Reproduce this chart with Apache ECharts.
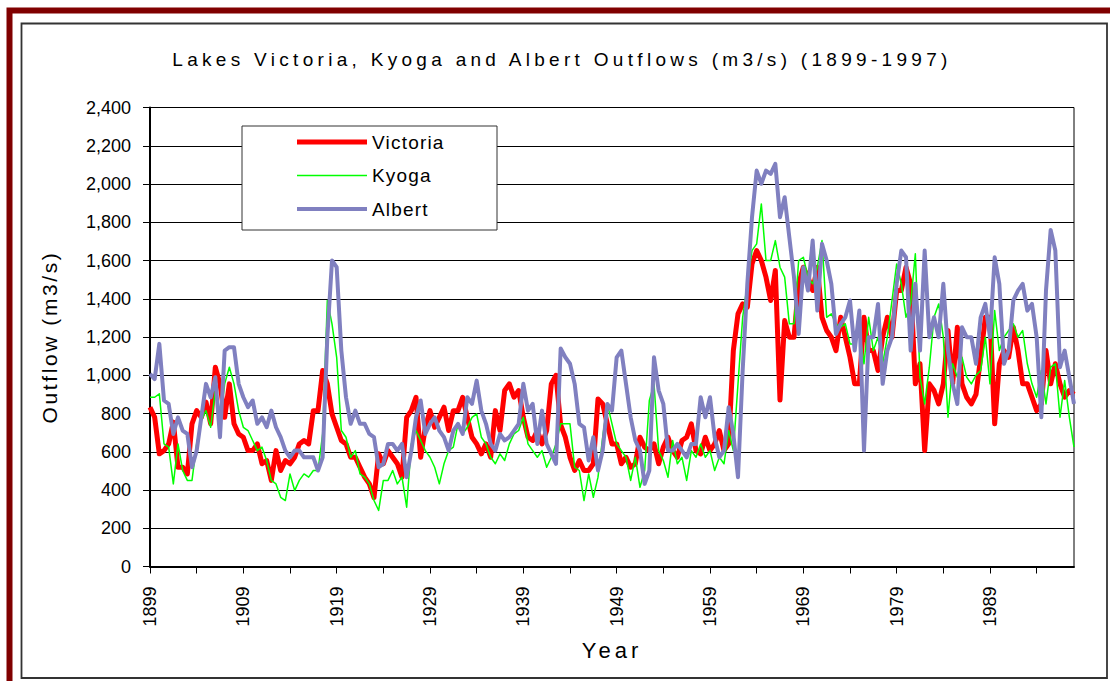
<!DOCTYPE html>
<html>
<head>
<meta charset="utf-8">
<script src="https://cdn.jsdelivr.net/npm/echarts@6.0.0/dist/echarts.min.js"></script>
<style>
html,body{margin:0;padding:0;background:#fff;}
#chart{width:1110px;height:681px;}
#chart text[style*="lsTitle"]{letter-spacing:4.3px;}
#chart text[style*="lsYName"]{letter-spacing:2.6px;}
#chart text[style*="lsXName"]{letter-spacing:4px;}
#chart text[style*="lsLegend"]{letter-spacing:1.2px;}
</style>
</head>
<body>
<div id="chart"></div>
<script>
// Half-yearly samples, starting 1899.0
const startYear = 1899;
const stepYears = 0.5;

const victoria = [
  833, 780, 589, 606, 641, 755, 519, 519, 484, 746, 815, 780, 860, 746, 1042, 955, 780, 955, 746, 693, 676, 606,
  606, 641, 537, 554, 450, 606, 502, 554, 537, 571, 641, 659, 641, 815, 815, 1025, 955, 798, 728, 659, 641, 571,
  571, 519, 467, 432, 360, 589, 537, 606, 571, 537, 467, 780, 815, 885, 571, 728, 815, 728, 780, 833, 711, 815,
  815, 885, 780, 676, 641, 589, 641, 571, 815, 711, 920, 955, 885, 920, 780, 676, 659, 711, 641, 711, 955, 1000, 740,
  676, 571, 502, 554, 502, 502, 537, 876, 850, 746, 641, 641, 537, 571, 519, 537, 676, 624, 606, 641, 537, 624,
  676, 606, 571, 659, 676, 746, 606, 589, 676, 606, 641, 711, 606, 641, 1129, 1321, 1373, 1356, 1582, 1652, 1600, 1513,
  1391, 1548, 870, 1286, 1199, 1199, 1478, 1565, 1513, 1443, 1565, 1303, 1234, 1199, 1129, 1303, 1199, 1094, 955, 955, 1303, 1129,
  1129, 1025, 1199, 1303, 1199, 1443, 1443, 1565, 1478, 955, 1060, 606, 955, 920, 850, 955, 1234, 955, 1251, 955, 885, 850, 900,
  1094, 1303, 1303, 746, 1060, 1129, 1094, 1251, 1129, 955, 955, 885, 815, 850, 1129, 955, 1060, 955, 885, 920, 900
];

const kyoga = [
  885, 885, 903, 641, 624, 432, 641, 502, 450, 450, 641, 763, 815, 728, 920, 746, 955, 1042, 955, 815, 728, 711,
  659, 606, 624, 554, 450, 432, 362, 345, 484, 397, 450, 484, 467, 502, 502, 693, 1391, 1269, 1094, 711, 676, 571,
  606, 484, 467, 432, 345, 293, 450, 450, 502, 432, 467, 310, 641, 711, 659, 606, 571, 519, 432, 537, 606, 624,
  746, 693, 728, 780, 798, 676, 641, 571, 537, 589, 554, 641, 693, 711, 780, 641, 606, 571, 606, 519, 571, 641, 746,
  746, 746, 519, 502, 345, 484, 362, 467, 676, 850, 746, 641, 606, 571, 450, 571, 414, 502, 868, 955, 606, 554,
  467, 659, 537, 571, 450, 606, 571, 641, 571, 606, 502, 571, 537, 711, 606, 955, 1303, 1478, 1652, 1687, 1896, 1600,
  1600, 1704, 1565, 1513, 1269, 1269, 1600, 1617, 1513, 1478, 1565, 1704, 1303, 1321, 1269, 1251, 1269, 1164, 1164, 1234, 1060, 1303,
  1129, 1199, 1060, 1199, 1391, 1582, 1478, 1303, 1373, 1635, 990, 850, 1042, 1303, 1373, 1199, 781, 1060, 990, 1094, 990, 955, 1000,
  1025, 1199, 955, 1338, 1129, 1199, 1234, 1269, 1199, 1234, 1060, 955, 885, 1025, 850, 1042, 1060, 781, 972, 781, 624
];

const albert = [
  1007, 980, 1164, 868, 850, 693, 780, 711, 693, 519, 606, 780, 955, 885, 990, 676, 1129, 1147, 1147, 955, 885, 833,
  868, 746, 780, 728, 815, 728, 676, 606, 571, 606, 606, 571, 571, 571, 502, 571, 1199, 1600, 1565, 1129, 885, 746,
  815, 746, 746, 693, 676, 519, 537, 641, 641, 606, 641, 467, 606, 780, 868, 693, 746, 780, 711, 676, 606, 711,
  746, 693, 885, 850, 972, 815, 746, 641, 606, 693, 659, 676, 711, 746, 955, 815, 850, 641, 815, 641, 589, 537, 1140,
  1094, 1060, 955, 746, 728, 554, 676, 502, 606, 850, 815, 1094, 1129, 955, 780, 659, 606, 432, 502, 1094, 920, 850,
  606, 606, 641, 606, 571, 641, 641, 885, 780, 885, 676, 571, 606, 833, 693, 467, 1025, 1478, 1826, 2070, 2001, 2070,
  2053, 2105, 1826, 1931, 1722, 1513, 1216, 1565, 1443, 1704, 1338, 1687, 1600, 1478, 1216, 1269, 1303, 1391, 1129, 1338, 606, 1199,
  1199, 1373, 955, 1129, 1199, 1478, 1652, 1617, 1129, 1478, 1129, 1652, 1199, 1303, 1199, 1478, 1129, 955, 850, 1251, 1199, 1199, 1060,
  1303, 1373, 1199, 1617, 1478, 1060, 1129, 1391, 1443, 1478, 1338, 1373, 1199, 781, 1443, 1760, 1652, 1042, 1129, 990, 850
];

const seriesNames = ['Victoria', 'Kyoga', 'Albert'];
const yearLabels = [1899, 1909, 1919, 1929, 1939, 1949, 1959, 1969, 1979, 1989];
const yearTicks = [1899, 1904, 1909, 1914, 1919, 1924, 1929, 1934, 1939, 1944, 1949, 1954, 1959, 1964, 1969, 1974, 1979, 1984, 1989, 1994];

const toPairs = vals => vals.map((v, i) => [startYear + i * stepYears, v]);

const chart = echarts.init(document.getElementById('chart'), null, { renderer: 'svg' });
chart.setOption({
  animation: false,
  backgroundColor: '#fff',
  graphic: [
    { type: 'rect', silent: true, z: 100, shape: { x: 9.5, y: 10.5, width: 1200, height: 800 },
      style: { fill: 'none', stroke: '#800000', lineWidth: 6 } },
    { type: 'rect', silent: true, z: 100, shape: { x: 21.5, y: 23.5, width: 1085.5, height: 654.5 },
      style: { fill: 'none', stroke: '#333', lineWidth: 1.8 } }
  ],
  title: {
    text: 'Lakes Victoria, Kyoga and Albert Outflows (m3/s) (1899-1997)',
    left: 562, top: 50, padding: 0, textAlign: 'center',
    textStyle: { fontFamily: 'Liberation Sans, lsTitle', fontSize: 19, fontWeight: 'normal', color: '#000' }
  },
  legend: {
    orient: 'vertical', left: 242, top: 126,
    itemWidth: 70, itemHeight: 14, itemGap: 13.5,
    padding: [6, 62, 11, 55],
    backgroundColor: '#fff', borderColor: '#333', borderWidth: 1, borderRadius: 0,
    itemStyle: { borderWidth: 0 },
    textStyle: { fontFamily: 'Liberation Sans, lsLegend', fontSize: 19, color: '#000', lineHeight: 20 },
    data: [
      { name: seriesNames[0], icon: 'path://M0,0M70,14M0,4.5L70,4.5L70,9.5L0,9.5Z' },
      { name: seriesNames[1], icon: 'path://M0,0M70,14M0,6.2L70,6.2L70,7.8L0,7.8Z' },
      { name: seriesNames[2], icon: 'path://M0,0M70,14M0,5L70,5L70,9L0,9Z' }
    ]
  },
  grid: {
    left: 150, right: 36, top: 107.5, bottom: 114.5,
    show: true, borderColor: '#000', borderWidth: 1, backgroundColor: 'transparent',
    containLabel: false, outerBoundsMode: 'none'
  },
  xAxis: {
    type: 'value', min: 1899, max: 1998,
    name: 'Year', nameLocation: 'middle', nameGap: 73,
    nameTextStyle: { fontFamily: 'Liberation Sans, lsXName', fontSize: 22, color: '#000' },
    axisLine: { show: true, onZero: false, lineStyle: { color: '#000', width: 2 } },
    axisTick: { show: true, customValues: yearTicks, length: 7, lineStyle: { color: '#000', width: 1 } },
    axisLabel: { customValues: yearLabels, rotate: 90, margin: 20, fontFamily: 'Liberation Sans', fontSize: 18, color: '#000',
      formatter: v => String(v) },
    splitLine: { show: false }
  },
  yAxis: {
    type: 'value', min: 0, max: 2400, interval: 200,
    name: 'Outflow (m3/s)', nameLocation: 'middle', nameGap: 90, nameRotate: 90,
    nameTextStyle: { fontFamily: 'Liberation Sans, lsYName', fontSize: 21, color: '#000' },
    axisLine: { show: true, lineStyle: { color: '#000', width: 2 } },
    axisTick: { show: true, length: 7, lineStyle: { color: '#000', width: 1 } },
    axisLabel: { margin: 19, fontFamily: 'Liberation Sans', fontSize: 18, color: '#000',
      formatter: v => v.toLocaleString('en-US') },
    splitLine: { show: true, lineStyle: { color: '#000', width: 1 } }
  },
  series: [
    { name: seriesNames[0], type: 'line', data: toPairs(victoria), symbol: 'none', z: 2,
      lineStyle: { color: '#FF0000', width: 5, join: 'round' }, itemStyle: { color: '#FF0000' } },
    { name: seriesNames[1], type: 'line', data: toPairs(kyoga), symbol: 'none', z: 3,
      lineStyle: { color: '#00FF00', width: 1.5, join: 'round' }, itemStyle: { color: '#00FF00' } },
    { name: seriesNames[2], type: 'line', data: toPairs(albert), symbol: 'none', z: 4,
      lineStyle: { color: '#8080C0', width: 4, join: 'round' }, itemStyle: { color: '#8080C0' } }
  ]
});
</script>
</body>
</html>
